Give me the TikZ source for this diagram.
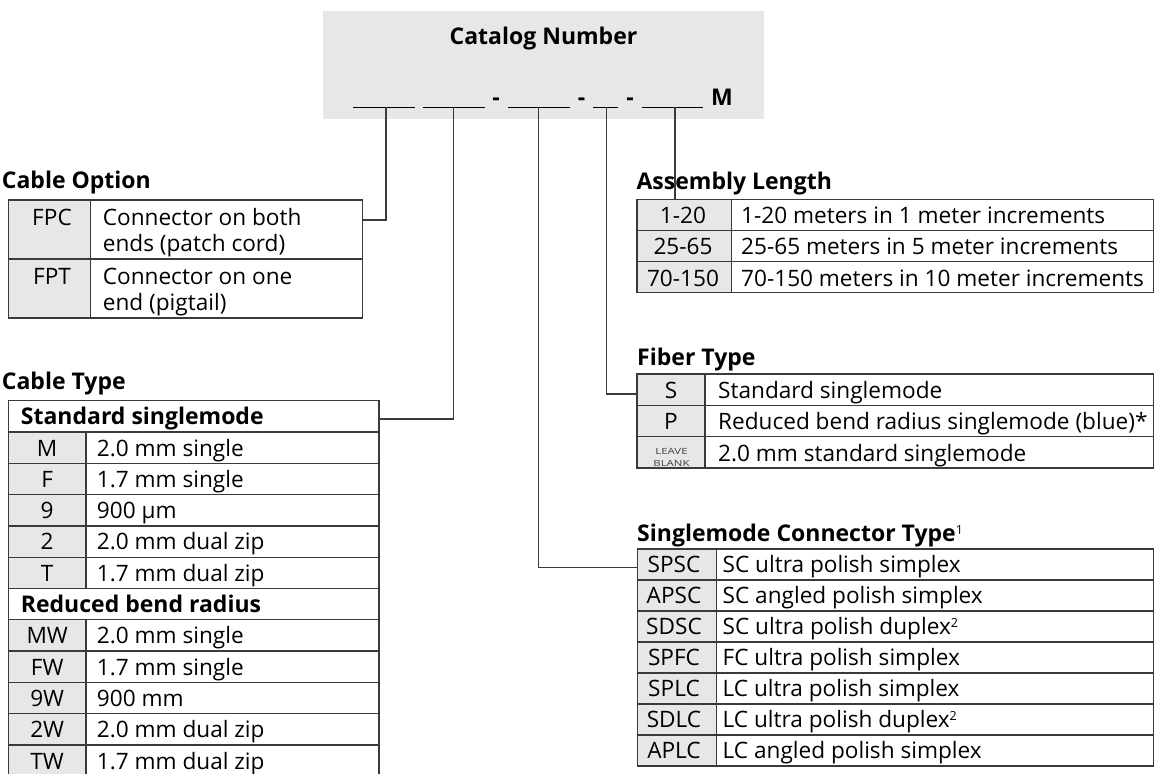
\documentclass[tikz,border=0pt]{standalone}
\usepackage{fontspec}
\setmainfont{Open Sans}
\definecolor{cellgrey}{HTML}{E6E7E8}
\definecolor{linec}{HTML}{3A3A3A}
\newcommand\myfs{\fontsize{22.6}{27}\selectfont}
\newcommand\mybf{\fontsize{23}{27}\selectfont\bfseries}
\newcommand\mysup[1]{\raisebox{7.5pt}{\fontsize{12.5}{13}\fontseries{m}\selectfont #1}}
\newcommand\widen[1]{\scalebox{1.35}[1]{#1}}
\begin{document}
\begin{tikzpicture}[x=1pt,y=-1pt,
  tbl/.style={draw=linec,line width=1.3pt},
  conn/.style={draw=linec,line width=1.3pt},
  uline/.style={draw=black,line width=1.3pt},
  txt/.style={inner sep=0pt,anchor=base west,font=\myfs},
  ctr/.style={inner sep=0pt,anchor=base,font=\myfs},
  ttl/.style={inner sep=0pt,anchor=base west,font=\mybf},
  tiny/.style={inner sep=0pt,anchor=base,font=\fontsize{8.5}{9}\selectfont,text=black!75},
]
\useasboundingbox (0,0) rectangle (1158,773);
\fill[white] (0,0) rectangle (1158,773);

% ---------- header ----------
\node[fill=cellgrey,minimum width=441.3pt,minimum height=108.3pt,inner sep=0pt,anchor=north west] (hdr) at (322.7,11) {};
\node[ttl,anchor=base] (cat) at (543.5,45) {Catalog Number};
\foreach \a/\b [count=\i] in {353.3/415,422.7/485,508.3/570,593.3/618.3,641.7/703.3}
  \draw[uline] (\a,107.3) -- (\b,107.3);
\node[ttl,anchor=base] (d1) at (496,106) {-};
\node[ttl,anchor=base] (d2) at (581.5,106) {-};
\node[ttl,anchor=base] (d3) at (630,106) {-};
\node[ttl] (mm) at (711,106) {M};
\coordinate (b1) at (386,107.3);
\coordinate (b2) at (453.7,107.3);
\coordinate (b3) at (538.3,107.3);
\coordinate (b4) at (606.7,107.3);
\coordinate (b5) at (675,107.3);

% ---------- Cable Option ----------
\node[ttl] (cot) at (1.7,188.3) {Cable Option};
\fill[cellgrey] (8.3,200) rectangle (90.7,318);
\draw[tbl] (8.3,200) rectangle (362.7,318);
\draw[tbl] (90.7,200) -- (90.7,318) (8.3,259) -- (362.7,259);
\node[ctr] (co1c) at (52,225) {FPC};
\node[txt] (co1a) at (102.7,225) {Connector on both};
\node[txt] (co1b) at (102.7,251.7) {ends (patch cord)};
\node[ctr] (co2c) at (52,284) {FPT};
\node[txt] (co2a) at (102.7,284) {Connector on one};
\node[txt] (co2b) at (102.7,310.7) {end (pigtail)};
\coordinate (coin) at (362.7,220);

% ---------- Cable Type ----------
\node[ttl] (ctt) at (1.7,389.3) {Cable Type};
\foreach \k/\c/\d in {1/M/2.0 mm single,2/F/1.7 mm single,3/9/900 µm,4/2/2.0 mm dual zip,5/T/1.7 mm dual zip,7/MW/2.0 mm single,8/FW/1.7 mm single,9/9W/900 mm,10/2W/2.0 mm dual zip,11/TW/1.7 mm dual zip}{
  \pgfmathsetmacro\rtop{400.7+31.3*\k}
  \fill[cellgrey] (8.3,\rtop) rectangle (86,\rtop+31.3);
  \draw[tbl] (86,\rtop) -- (86,\rtop+31.3);
  \node[ctr] (ctc\k) at (47.2,\rtop+24) {\c};
  \node[txt] (ctd\k) at (96.7,\rtop+24) {\d};
}
\foreach \k in {1,...,12}
  \draw[tbl] (8.3,400.7+31.3*\k) -- (379,400.7+31.3*\k);
\draw[tbl] (8.3,778) -- (8.3,400.7) -- (379,400.7) -- (379,778);
\node[ttl] (cth0) at (20.7,424.7) {Standard singlemode};
\node[ttl] (cth6) at (20.7,612.5) {Reduced bend radius};
\coordinate (ctin) at (379,419);

% ---------- Assembly Length ----------
\node[ttl] (alt) at (636.4,189) {Assembly Length};
\fill[cellgrey] (637,199.3) rectangle (731.3,292.6);
\draw[tbl] (637,199.3) rectangle (1153.5,292.6);
\draw[tbl] (731.3,199.3) -- (731.3,292.6)
  (637,230.4) -- (1153.5,230.4) (637,261.5) -- (1153.5,261.5);
\foreach \k/\c/\d in {0/1-20/1-20 meters in 1 meter increments,1/25-65/25-65 meters in 5 meter increments,2/70-150/70-150 meters in 10 meter increments}{
  \pgfmathsetmacro\rtop{199.3+31.1*\k}
  \node[ctr] (alc\k) at (683,\rtop+24.5) {\c};
  \node[txt] (ald\k) at (741,\rtop+24.5) {\d};
}
\coordinate (alin) at (675,199.3);

% ---------- Fiber Type ----------
\node[ttl] (ftt) at (637,365) {Fiber Type};
\fill[cellgrey] (637,374) rectangle (705,468);
\draw[tbl] (637,374) rectangle (1153.5,468);
\draw[tbl] (705,374) -- (705,468)
  (637,405.3) -- (1153.5,405.3) (637,436.7) -- (1153.5,436.7);
\node[ctr] (ftc0) at (671,398.3) {S};
\node[txt] (ftd0) at (718,398.3) {Standard singlemode};
\node[ctr] (ftc1) at (671,429.6) {P};
\node[txt] (ftd1) at (718,429.6) {Reduced bend radius singlemode (blue)*};
\node[tiny] (ftc2a) at (671.5,454.5) {\widen{LEAVE}};
\node[tiny] (ftc2b) at (671.5,466) {\widen{BLANK}};
\node[txt] (ftd2) at (718,461) {2.0 mm standard singlemode};
\coordinate (ftin) at (637,394);

% ---------- Singlemode Connector Type ----------
\node[ttl] (cnt) at (637,541.7) {Singlemode Connector Type\mysup{1}};
\fill[cellgrey] (637.3,549) rectangle (716.7,766);
\foreach \k/\c/\d in {0/SPSC/SC ultra polish simplex,1/APSC/SC angled polish simplex,2/SDSC/SC ultra polish duplex\mysup{2},3/SPFC/FC ultra polish simplex,4/SPLC/LC ultra polish simplex,5/SDLC/LC ultra polish duplex\mysup{2},6/APLC/LC angled polish simplex}{
  \pgfmathsetmacro\rtop{549+31*\k}
  \node[ctr] (cnc\k) at (674,\rtop+23.7) {\c};
  \node[txt] (cnd\k) at (722.5,\rtop+23.7) {\d};
}
\foreach \k in {1,...,6}
  \draw[tbl] (637.3,549+31*\k) -- (1153.5,549+31*\k);
\draw[tbl] (637.3,549) rectangle (1153.5,766);
\draw[tbl] (716.7,549) -- (716.7,766);
\coordinate (cnin) at (637.3,567.3);

% ---------- connectors ----------
\draw[conn] (b1) |- (coin);
\draw[conn] (b2) |- (ctin);
\draw[conn] (b3) |- (cnin);
\draw[conn] (b4) |- (ftin);
\draw[conn] (b5) -- (alin);
\end{tikzpicture}
\end{document}
